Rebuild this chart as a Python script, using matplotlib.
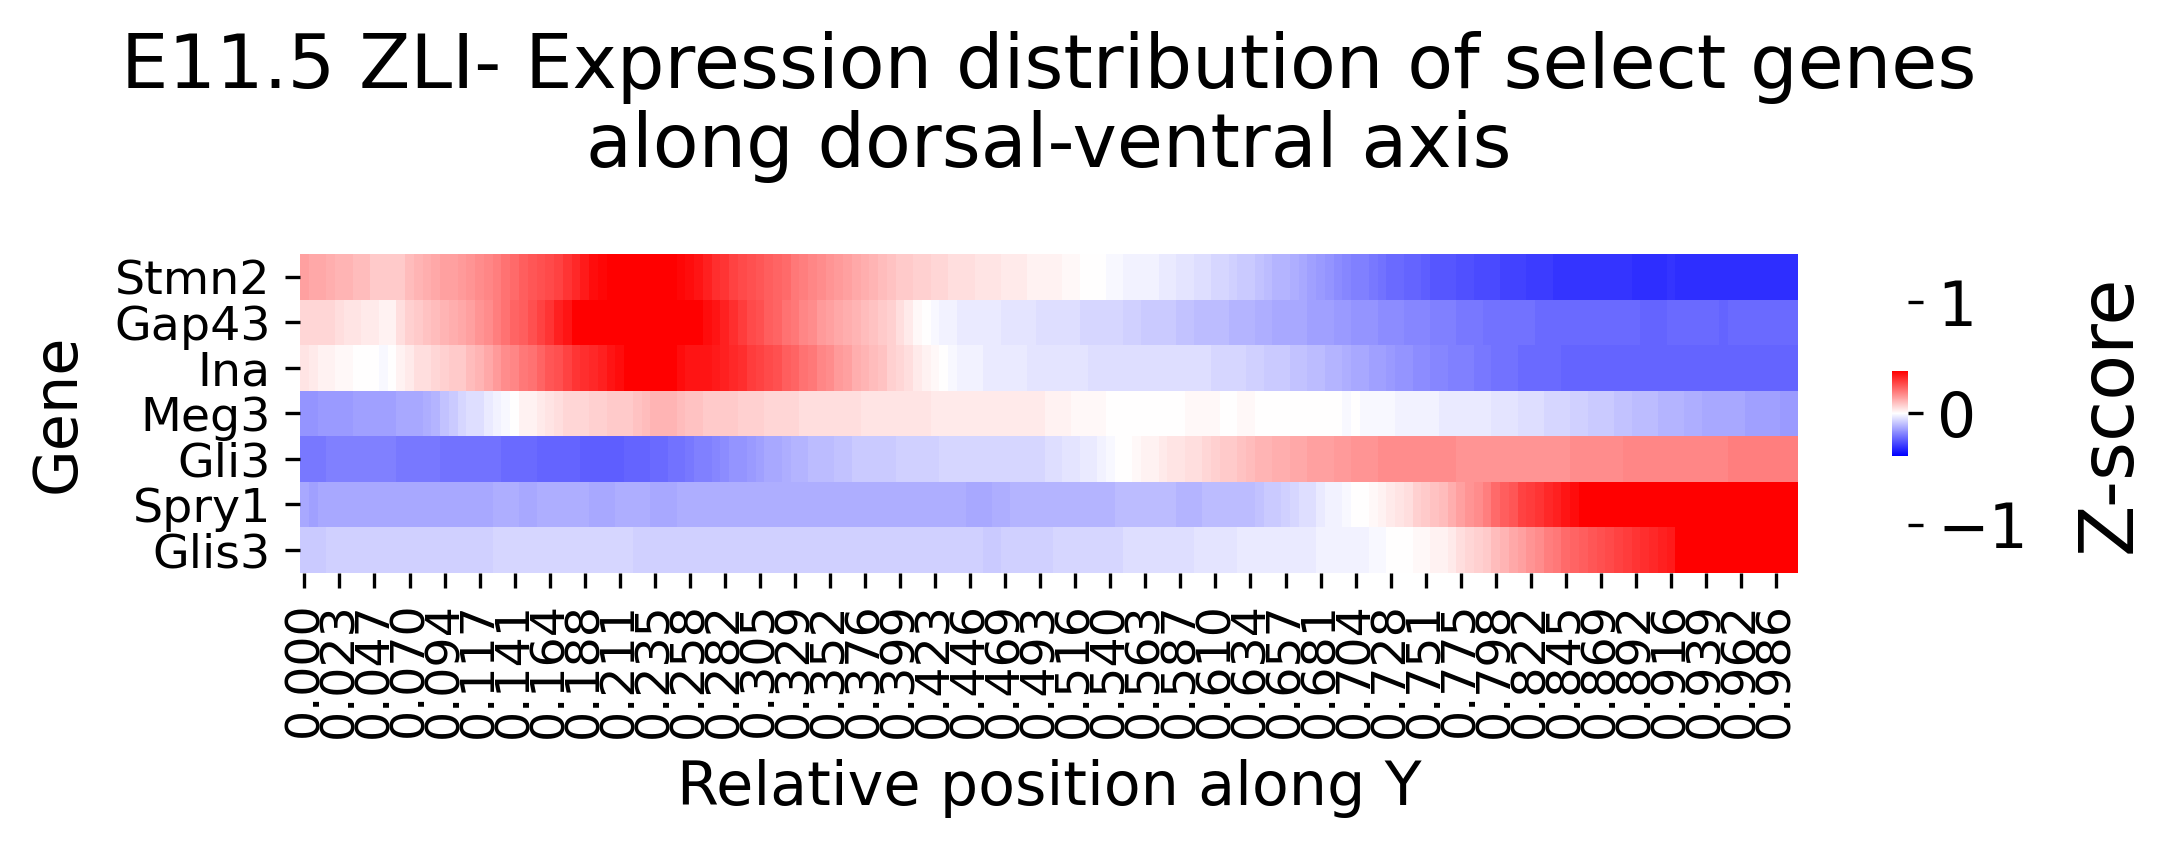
import numpy as np
import matplotlib
matplotlib.use("Agg")
import matplotlib.pyplot as plt

# Genes (rows, top to bottom) and the shown x tick labels (every 4th column)
genes = ["Stmn2", "Gap43", "Ina", "Meg3", "Gli3", "Spry1", "Glis3"]
tick_labels = ["0.000", "0.023", "0.047", "0.070", "0.094", "0.117", "0.141", "0.164",
               "0.188", "0.211", "0.235", "0.258", "0.282", "0.305", "0.329", "0.352",
               "0.376", "0.399", "0.423", "0.446", "0.469", "0.493", "0.516", "0.540",
               "0.563", "0.587", "0.610", "0.634", "0.657", "0.681", "0.704", "0.728",
               "0.751", "0.775", "0.798", "0.822", "0.845", "0.869", "0.892", "0.916",
               "0.939", "0.962", "0.986"]

# Z-scores per position bin (171 bins)
stmn2 = [0.14, 0.13, 0.13, 0.12, 0.11, 0.11, 0.10, 0.10, 0.08, 0.08,
         0.08, 0.08, 0.10, 0.11, 0.12, 0.13, 0.14, 0.14, 0.15, 0.16,
         0.17, 0.18, 0.19, 0.21, 0.22, 0.24, 0.25, 0.26, 0.27, 0.28,
         0.30, 0.32, 0.34, 0.36, 0.37, 0.39, 0.40, 0.41, 0.41, 0.40,
         0.40, 0.39, 0.38, 0.37, 0.36, 0.35, 0.33, 0.31, 0.30, 0.28,
         0.27, 0.26, 0.25, 0.24, 0.23, 0.22, 0.20, 0.19, 0.18, 0.17,
         0.16, 0.15, 0.14, 0.13, 0.12, 0.11, 0.10, 0.09, 0.08, 0.08,
         0.07, 0.07, 0.06, 0.06, 0.05, 0.05, 0.05, 0.04, 0.04, 0.04,
         0.03, 0.03, 0.03, 0.02, 0.02, 0.02, 0.02, 0.01, 0.01, 0.00,
         0.00, 0.00, -0.01, -0.01, -0.02, -0.02, -0.02, -0.02, -0.03, -0.03,
         -0.04, -0.04, -0.05, -0.05, -0.06, -0.06, -0.07, -0.08, -0.08, -0.09,
         -0.10, -0.11, -0.11, -0.12, -0.13, -0.14, -0.15, -0.16, -0.17, -0.18,
         -0.19, -0.19, -0.20, -0.21, -0.22, -0.22, -0.23, -0.23, -0.24, -0.25,
         -0.25, -0.25, -0.26, -0.26, -0.27, -0.27, -0.27, -0.28, -0.28, -0.28,
         -0.29, -0.29, -0.29, -0.30, -0.30, -0.30, -0.30, -0.30, -0.30, -0.30,
         -0.30, -0.30, -0.31, -0.31, -0.31, -0.31, -0.30, -0.31, -0.31, -0.31,
         -0.31, -0.31, -0.31, -0.31, -0.31, -0.31, -0.31, -0.31, -0.31, -0.31, -0.31]
gap43 = [0.06, 0.06, 0.06, 0.06, 0.05, 0.04, 0.04, 0.03, 0.03, 0.02,
         0.02, 0.05, 0.07, 0.08, 0.09, 0.10, 0.11, 0.12, 0.13, 0.14,
         0.16, 0.17, 0.19, 0.21, 0.23, 0.24, 0.26, 0.28, 0.30, 0.33,
         0.35, 0.38, 0.40, 0.41, 0.42, 0.42, 0.42, 0.42, 0.41, 0.41,
         0.41, 0.41, 0.40, 0.40, 0.39, 0.38, 0.36, 0.35, 0.33, 0.31,
         0.29, 0.27, 0.26, 0.24, 0.23, 0.21, 0.20, 0.18, 0.17, 0.15,
         0.14, 0.13, 0.12, 0.11, 0.10, 0.09, 0.08, 0.07, 0.05, 0.03,
         0.01, 0.00, -0.01, -0.02, -0.02, -0.03, -0.03, -0.03, -0.03, -0.03,
         -0.04, -0.04, -0.04, -0.04, -0.05, -0.05, -0.05, -0.05, -0.05, -0.06,
         -0.06, -0.06, -0.06, -0.06, -0.07, -0.07, -0.08, -0.08, -0.08, -0.08,
         -0.09, -0.09, -0.10, -0.10, -0.10, -0.10, -0.11, -0.11, -0.11, -0.12,
         -0.12, -0.13, -0.13, -0.13, -0.13, -0.14, -0.14, -0.14, -0.15, -0.15,
         -0.16, -0.16, -0.16, -0.17, -0.17, -0.17, -0.18, -0.18, -0.18, -0.19,
         -0.19, -0.19, -0.20, -0.20, -0.20, -0.21, -0.21, -0.21, -0.21, -0.21,
         -0.21, -0.22, -0.22, -0.22, -0.22, -0.22, -0.22, -0.22, -0.22, -0.22,
         -0.22, -0.22, -0.22, -0.23, -0.23, -0.23, -0.22, -0.22, -0.22, -0.22,
         -0.22, -0.22, -0.23, -0.22, -0.22, -0.22, -0.22, -0.22, -0.22, -0.22, -0.22]
ina = [0.04, 0.03, 0.02, 0.02, 0.01, 0.01, 0.00, 0.00, 0.00, -0.01,
       0.00, 0.02, 0.03, 0.05, 0.05, 0.06, 0.07, 0.08, 0.08, 0.10,
       0.11, 0.13, 0.15, 0.17, 0.18, 0.20, 0.21, 0.23, 0.25, 0.26,
       0.28, 0.30, 0.31, 0.32, 0.33, 0.35, 0.36, 0.39, 0.40, 0.41,
       0.40, 0.39, 0.38, 0.36, 0.35, 0.35, 0.35, 0.34, 0.33, 0.32,
       0.31, 0.29, 0.28, 0.27, 0.26, 0.24, 0.23, 0.21, 0.20, 0.18,
       0.17, 0.15, 0.14, 0.12, 0.11, 0.10, 0.09, 0.07, 0.06, 0.05,
       0.03, 0.02, 0.01, 0.00, -0.01, -0.02, -0.02, -0.02, -0.03, -0.03,
       -0.03, -0.03, -0.03, -0.04, -0.04, -0.04, -0.04, -0.04, -0.04, -0.04,
       -0.05, -0.05, -0.05, -0.05, -0.05, -0.05, -0.05, -0.05, -0.05, -0.05,
       -0.05, -0.05, -0.05, -0.05, -0.06, -0.06, -0.06, -0.06, -0.07, -0.07,
       -0.08, -0.08, -0.08, -0.09, -0.09, -0.10, -0.10, -0.11, -0.11, -0.12,
       -0.13, -0.13, -0.14, -0.14, -0.15, -0.16, -0.16, -0.17, -0.17, -0.18,
       -0.18, -0.19, -0.19, -0.19, -0.20, -0.20, -0.21, -0.21, -0.21, -0.22,
       -0.22, -0.22, -0.22, -0.22, -0.23, -0.23, -0.23, -0.23, -0.23, -0.23,
       -0.23, -0.23, -0.23, -0.23, -0.23, -0.23, -0.23, -0.23, -0.23, -0.23,
       -0.23, -0.23, -0.23, -0.23, -0.23, -0.23, -0.23, -0.23, -0.23, -0.23, -0.23]
meg3 = [-0.16, -0.16, -0.15, -0.15, -0.15, -0.15, -0.14, -0.14, -0.14, -0.14,
        -0.14, -0.13, -0.13, -0.13, -0.12, -0.11, -0.09, -0.08, -0.06, -0.05,
        -0.05, -0.03, -0.02, -0.01, 0.00, 0.02, 0.02, 0.03, 0.04, 0.05,
        0.06, 0.06, 0.06, 0.07, 0.07, 0.08, 0.08, 0.08, 0.09, 0.10,
        0.11, 0.11, 0.11, 0.10, 0.09, 0.09, 0.08, 0.08, 0.08, 0.08,
        0.07, 0.07, 0.07, 0.06, 0.06, 0.06, 0.06, 0.05, 0.05, 0.05,
        0.05, 0.05, 0.05, 0.05, 0.04, 0.04, 0.04, 0.04, 0.04, 0.04,
        0.04, 0.04, 0.03, 0.03, 0.03, 0.03, 0.03, 0.03, 0.03, 0.03,
        0.03, 0.03, 0.03, 0.03, 0.03, 0.02, 0.02, 0.02, 0.01, 0.01,
        0.01, 0.01, 0.00, 0.00, 0.00, 0.00, 0.00, 0.00, 0.00, 0.00,
        0.00, 0.01, 0.01, 0.01, 0.01, 0.00, 0.00, 0.01, 0.01, 0.00,
        0.00, 0.00, 0.00, 0.00, 0.00, 0.00, 0.00, 0.00, 0.00, -0.01,
        0.00, -0.01, -0.01, -0.01, -0.01, -0.02, -0.02, -0.02, -0.02, -0.02,
        -0.03, -0.03, -0.03, -0.03, -0.03, -0.03, -0.04, -0.04, -0.04, -0.05,
        -0.05, -0.05, -0.06, -0.06, -0.06, -0.07, -0.07, -0.08, -0.08, -0.08,
        -0.09, -0.09, -0.10, -0.10, -0.10, -0.11, -0.11, -0.11, -0.12, -0.12,
        -0.13, -0.13, -0.13, -0.13, -0.13, -0.14, -0.14, -0.14, -0.14, -0.15, -0.15]
gli3 = [-0.20, -0.20, -0.20, -0.19, -0.19, -0.19, -0.19, -0.19, -0.19, -0.19,
        -0.19, -0.20, -0.20, -0.20, -0.20, -0.20, -0.21, -0.21, -0.21, -0.21,
        -0.21, -0.21, -0.21, -0.22, -0.22, -0.22, -0.22, -0.23, -0.23, -0.23,
        -0.23, -0.23, -0.24, -0.24, -0.24, -0.24, -0.24, -0.23, -0.23, -0.23,
        -0.22, -0.22, -0.21, -0.21, -0.20, -0.19, -0.19, -0.18, -0.17, -0.16,
        -0.16, -0.15, -0.14, -0.13, -0.13, -0.12, -0.11, -0.11, -0.10, -0.10,
        -0.10, -0.09, -0.09, -0.08, -0.08, -0.08, -0.08, -0.08, -0.07, -0.07,
        -0.07, -0.07, -0.07, -0.06, -0.06, -0.06, -0.06, -0.06, -0.06, -0.06,
        -0.06, -0.06, -0.06, -0.06, -0.06, -0.05, -0.05, -0.04, -0.04, -0.03,
        -0.03, -0.02, -0.01, 0.00, 0.00, 0.01, 0.02, 0.02, 0.03, 0.04,
        0.04, 0.05, 0.05, 0.06, 0.07, 0.08, 0.08, 0.09, 0.10, 0.11,
        0.11, 0.12, 0.12, 0.13, 0.13, 0.14, 0.14, 0.14, 0.15, 0.15,
        0.16, 0.16, 0.16, 0.17, 0.17, 0.17, 0.17, 0.17, 0.17, 0.17,
        0.17, 0.17, 0.16, 0.16, 0.16, 0.16, 0.16, 0.16, 0.16, 0.16,
        0.16, 0.16, 0.16, 0.16, 0.16, 0.17, 0.17, 0.17, 0.17, 0.17,
        0.17, 0.18, 0.18, 0.18, 0.18, 0.18, 0.18, 0.18, 0.18, 0.18,
        0.18, 0.18, 0.18, 0.19, 0.19, 0.19, 0.19, 0.19, 0.19, 0.19, 0.19]
spry1 = [-0.13, -0.14, -0.13, -0.13, -0.13, -0.13, -0.13, -0.13, -0.13, -0.13,
         -0.13, -0.13, -0.13, -0.13, -0.13, -0.13, -0.13, -0.13, -0.13, -0.13,
         -0.13, -0.13, -0.12, -0.12, -0.12, -0.13, -0.13, -0.12, -0.12, -0.12,
         -0.12, -0.12, -0.12, -0.13, -0.13, -0.13, -0.12, -0.12, -0.12, -0.12,
         -0.13, -0.13, -0.13, -0.12, -0.12, -0.12, -0.12, -0.12, -0.12, -0.12,
         -0.12, -0.12, -0.12, -0.12, -0.12, -0.12, -0.12, -0.12, -0.12, -0.12,
         -0.12, -0.12, -0.12, -0.12, -0.12, -0.12, -0.12, -0.12, -0.12, -0.12,
         -0.12, -0.12, -0.12, -0.12, -0.12, -0.12, -0.13, -0.13, -0.13, -0.12,
         -0.12, -0.11, -0.11, -0.11, -0.11, -0.11, -0.11, -0.11, -0.11, -0.11,
         -0.11, -0.11, -0.11, -0.10, -0.10, -0.10, -0.10, -0.10, -0.10, -0.10,
         -0.11, -0.11, -0.11, -0.10, -0.10, -0.10, -0.10, -0.10, -0.10, -0.09,
         -0.08, -0.08, -0.07, -0.06, -0.05, -0.05, -0.03, -0.02, -0.02, -0.01,
         0.00, 0.00, 0.01, 0.02, 0.03, 0.04, 0.05, 0.07, 0.08, 0.09,
         0.10, 0.12, 0.14, 0.16, 0.17, 0.19, 0.22, 0.24, 0.25, 0.28,
         0.29, 0.30, 0.32, 0.33, 0.35, 0.36, 0.39, 0.41, 0.43, 0.44,
         0.45, 0.47, 0.48, 0.50, 0.52, 0.53, 0.55, 0.56, 0.57, 0.58,
         0.59, 0.60, 0.60, 0.61, 0.61, 0.62, 0.62, 0.63, 0.63, 0.64, 0.64]
glis3 = [-0.08, -0.08, -0.08, -0.07, -0.07, -0.07, -0.07, -0.07, -0.07, -0.07,
         -0.07, -0.07, -0.07, -0.07, -0.07, -0.07, -0.07, -0.07, -0.07, -0.07,
         -0.07, -0.07, -0.06, -0.06, -0.06, -0.06, -0.06, -0.06, -0.06, -0.06,
         -0.06, -0.06, -0.06, -0.06, -0.06, -0.06, -0.06, -0.06, -0.07, -0.07,
         -0.07, -0.07, -0.07, -0.07, -0.07, -0.07, -0.07, -0.07, -0.07, -0.07,
         -0.07, -0.07, -0.07, -0.07, -0.07, -0.07, -0.07, -0.07, -0.07, -0.07,
         -0.07, -0.07, -0.07, -0.07, -0.07, -0.07, -0.07, -0.07, -0.07, -0.07,
         -0.07, -0.07, -0.07, -0.07, -0.07, -0.07, -0.07, -0.07, -0.08, -0.08,
         -0.07, -0.07, -0.07, -0.07, -0.07, -0.07, -0.06, -0.06, -0.06, -0.06,
         -0.06, -0.06, -0.06, -0.06, -0.05, -0.05, -0.05, -0.05, -0.05, -0.05,
         -0.05, -0.05, -0.04, -0.04, -0.04, -0.04, -0.04, -0.03, -0.03, -0.03,
         -0.03, -0.03, -0.03, -0.03, -0.03, -0.03, -0.02, -0.02, -0.02, -0.02,
         -0.02, -0.02, -0.01, -0.01, 0.00, 0.00, 0.00, 0.01, 0.01, 0.02,
         0.02, 0.03, 0.05, 0.06, 0.07, 0.08, 0.10, 0.11, 0.13, 0.14,
         0.16, 0.17, 0.19, 0.20, 0.22, 0.23, 0.24, 0.25, 0.26, 0.27,
         0.28, 0.29, 0.30, 0.31, 0.32, 0.33, 0.34, 0.40, 0.42, 0.44,
         0.45, 0.46, 0.47, 0.48, 0.50, 0.51, 0.52, 0.53, 0.54, 0.55, 0.56]

data = np.array([stmn2, gap43, ina, meg3, gli3, spry1, glis3])
n_rows, n_cols = data.shape

# Figure geometry in pixels (300 dpi)
W, H, DPI = 2173, 852, 300
fig = plt.figure(figsize=(W / DPI, H / DPI), dpi=DPI)
ax = fig.add_axes([300 / W, 1 - 572.7 / H, 1498 / W, 318.7 / H])
cax = fig.add_axes([1892 / W, 1 - 572.7 / H, 16 / W, 318.7 / H])

mesh = ax.pcolormesh(data, cmap="bwr", vmin=-0.38, vmax=0.38)
ax.set_xlim(0, n_cols)
ax.set_ylim(n_rows, 0)
for spine in ax.spines.values():
    spine.set_visible(False)

ax.set_xticks(np.arange(0, n_cols, 4) + 0.5)
ax.set_xticklabels(tick_labels, rotation=90, fontsize=11.4)
ax.set_yticks(np.arange(n_rows) + 0.5)
ax.set_yticklabels(genes, rotation=0, fontsize=11.4)
ax.set_xlabel("Relative position along Y", fontsize=14.5, labelpad=5)
ax.set_ylabel("Gene", fontsize=14.5, labelpad=6.5)
ax.set_title("E11.5 ZLI- Expression distribution of select genes\nalong dorsal-ventral axis",
             fontsize=18, pad=21, linespacing=1.1)

# Colorbar
cbar = fig.colorbar(mesh, cax=cax)
cbar.outline.set_visible(False)
cbar.set_ticks([-1, 0, 1])
cax.set_ylim(-1.4336, 1.4336)
cax.tick_params(labelsize=14.8)
cbar.set_label("Z-score", fontsize=18, labelpad=11)

fig.savefig("out.png", dpi=DPI)
